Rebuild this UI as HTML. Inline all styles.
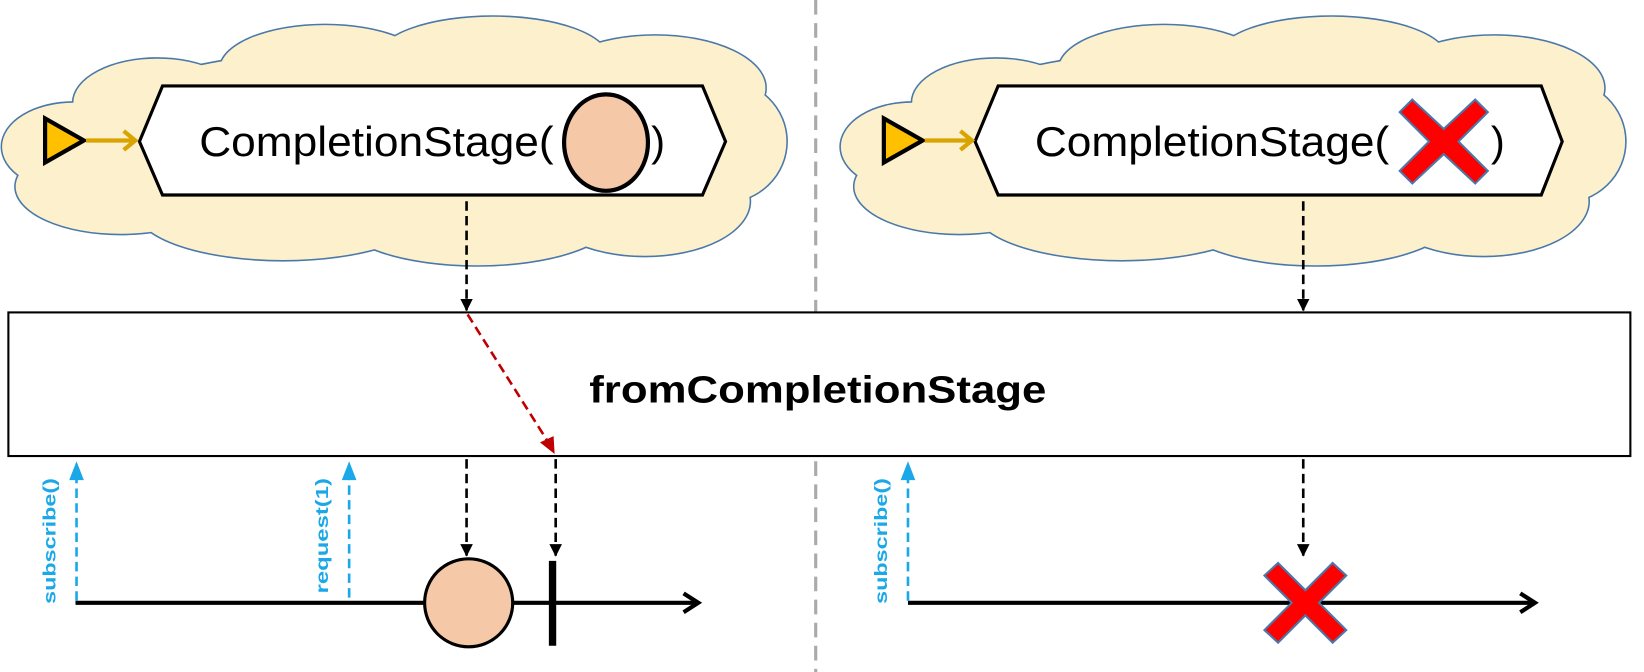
<!DOCTYPE html>
<html><head><meta charset="utf-8"><style>html,body{margin:0;padding:0;background:#fff}svg{display:block}</style></head>
<body>
<svg width="1644" height="672" viewBox="0 0 1568 641" preserveAspectRatio="none" xmlns="http://www.w3.org/2000/svg" font-family="Liberation Sans, sans-serif">
<defs>
<g id="cloud">
<ellipse cx="150" cy="98" rx="80" ry="42"/>
<ellipse cx="310" cy="66" rx="100" ry="42"/>
<ellipse cx="470" cy="56" rx="110" ry="40"/>
<ellipse cx="625" cy="84" rx="105" ry="50"/>
<ellipse cx="690" cy="135" rx="60" ry="58"/>
<ellipse cx="615" cy="192" rx="100" ry="52"/>
<ellipse cx="455" cy="208" rx="130" ry="45"/>
<ellipse cx="270" cy="200" rx="140" ry="48"/>
<ellipse cx="70" cy="140" rx="68" ry="42"/>
<ellipse cx="115" cy="178" rx="100" ry="45"/>
<ellipse cx="380" cy="135" rx="320" ry="90"/>
</g>
<marker id="ab" markerWidth="12" markerHeight="14" refX="11" refY="7" orient="auto" markerUnits="userSpaceOnUse"><path d="M0,1 L12,7 L0,13 Z" fill="#000"/></marker>
</defs>
<line x1="778" y1="0" x2="778" y2="641" stroke="#aaa" stroke-width="3" stroke-dasharray="14,8"/>
<g fill="#fdf0cd" stroke="#4a78a8" stroke-width="3"><use href="#cloud"/><use href="#cloud" x="800"/></g>
<g fill="#fdf0cd"><use href="#cloud"/><use href="#cloud" x="800"/></g>
<polygon points="133,135 155,82 670,82 692,135 670,186 155,186" fill="#fff" stroke="#000" stroke-width="3"/>
<text x="190" y="149" font-size="40" textLength="338" lengthAdjust="spacingAndGlyphs">CompletionStage(</text>
<ellipse cx="578" cy="136" rx="40" ry="46" fill="#f5c9a8" stroke="#000" stroke-width="4"/>
<text x="621" y="149" font-size="40">)</text>
<polygon points="43,113 80,134 43,155" fill="#ffc000" stroke="#000" stroke-width="4"/>
<line x1="82" y1="134" x2="128" y2="134" stroke="#d9a400" stroke-width="4"/>
<path d="M118,125 L129,134 L118,143" fill="none" stroke="#d9a400" stroke-width="4"/>
<polygon points="930,135 952,82 1470,82 1490,135 1470,186 952,186" fill="#fff" stroke="#000" stroke-width="3"/>
<text x="987" y="149" font-size="40" textLength="338" lengthAdjust="spacingAndGlyphs">CompletionStage(</text>
<g transform="translate(1377,135)"><path d="M-30,-40 L0,-12 L30,-40 L42,-28 L14,0 L42,28 L30,40 L0,12 L-30,40 L-42,28 L-14,0 L-42,-28 Z" fill="#f00" stroke="#4a78a8" stroke-width="2"/></g>
<text x="1422" y="149" font-size="40">)</text>
<polygon points="843,113 880,134 843,155" fill="#ffc000" stroke="#000" stroke-width="4"/>
<line x1="882" y1="134" x2="926" y2="134" stroke="#d9a400" stroke-width="4"/>
<path d="M916,125 L927,134 L916,143" fill="none" stroke="#d9a400" stroke-width="4"/>
<g stroke="#000" stroke-width="2.5" stroke-dasharray="9,5" marker-end="url(#ab)">
<line x1="445" y1="192" x2="445" y2="296"/>
<line x1="1243" y1="192" x2="1243" y2="296"/>
<line x1="445" y1="438" x2="445" y2="530"/>
<line x1="530" y1="438" x2="530" y2="530"/>
<line x1="1243" y1="438" x2="1243" y2="530"/>
</g>
<rect x="8" y="298" width="1547" height="137" fill="#fff" stroke="#000" stroke-width="2"/>
<text x="562" y="384" font-size="36" font-weight="bold" textLength="436" lengthAdjust="spacingAndGlyphs">fromCompletionStage</text>
<line x1="446" y1="300" x2="523" y2="422" stroke="#c00000" stroke-width="2.5" stroke-dasharray="9,5"/>
<path d="M515,422 L529,433 L528,416 Z" fill="#c00000"/>
<line x1="72" y1="575" x2="665" y2="575" stroke="#000" stroke-width="4"/>
<path d="M652,566 L666,575 L652,584" fill="none" stroke="#000" stroke-width="4"/>
<circle cx="447" cy="575" r="42" fill="#f5c9a8" stroke="#000" stroke-width="3"/>
<line x1="527" y1="535" x2="527" y2="616" stroke="#000" stroke-width="7"/>
<line x1="866" y1="575" x2="1463" y2="575" stroke="#000" stroke-width="4"/>
<path d="M1450,566 L1464,575 L1450,584" fill="none" stroke="#000" stroke-width="4"/>
<g transform="translate(1245,575)"><path d="M-26,-38 L0,-12 L26,-38 L39,-26 L13,0 L39,26 L26,38 L0,12 L-26,38 L-39,26 L-13,0 L-39,-26 Z" fill="#f00" stroke="#4a78a8" stroke-width="2"/></g>
<g stroke="#1aa8e8" stroke-width="2.5" stroke-dasharray="9,5">
<line x1="73" y1="573" x2="73" y2="455"/><line x1="333" y1="570" x2="333" y2="455"/><line x1="866" y1="573" x2="866" y2="455"/>
</g>
<g fill="#1aa8e8"><path d="M66,458 L73,440 L80,458Z"/><path d="M326,458 L333,440 L340,458Z"/><path d="M859,458 L866,440 L873,458Z"/></g>
<g fill="#1aa8e8" font-size="17" font-weight="bold">
<text transform="translate(53,576) rotate(-90)" textLength="120" lengthAdjust="spacingAndGlyphs">subscribe()</text>
<text transform="translate(313,566) rotate(-90)" textLength="110" lengthAdjust="spacingAndGlyphs">request(1)</text>
<text transform="translate(846,576) rotate(-90)" textLength="120" lengthAdjust="spacingAndGlyphs">subscribe()</text>
</g>
</svg>
</body></html>
